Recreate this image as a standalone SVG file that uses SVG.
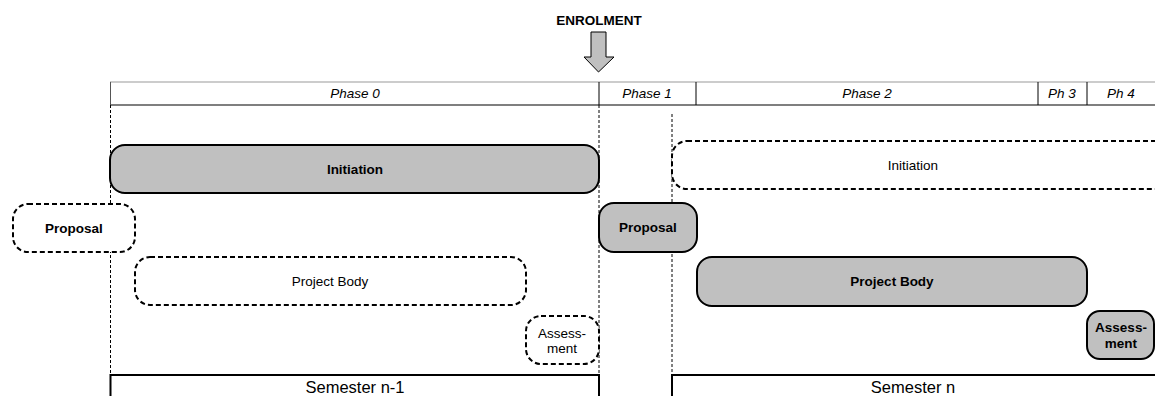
<svg xmlns="http://www.w3.org/2000/svg" width="1155" height="396" viewBox="0 0 1155 396">
<style>
text{font-family:"Liberation Sans",Arial,sans-serif;font-size:13.5px;fill:#000;text-anchor:middle}
.b{font-weight:bold}
.i{font-style:italic}
.solid{fill:#c0c0c0;stroke:#000;stroke-width:2}
.dash{fill:#fff;stroke:#000;stroke-width:2;stroke-dasharray:5 3}
.dot{stroke:#000;stroke-width:1;stroke-dasharray:3 2;fill:none}
.sem{fill:#fff;stroke:#000;stroke-width:2}
.st{font-size:16.5px}
</style>
<rect width="1155" height="396" fill="#fff"/>
<g id="enrolment">
<text class="b" x="599" y="25">ENROLMENT</text>
<polygon points="591,32 606,32 606,57 614,57 598.5,72 584,57 591,57" fill="#c0c0c0" stroke="#000" stroke-width="1"/>
</g>
<g id="phases">
<line x1="110" y1="82" x2="1155" y2="82" stroke="#999" stroke-width="1"/>
<line x1="110" y1="105" x2="1155" y2="105" stroke="#555" stroke-width="1.5"/>
<line x1="110.5" y1="82" x2="110.5" y2="105" stroke="#555" stroke-width="1"/>
<line x1="599" y1="82" x2="599" y2="105" stroke="#000" stroke-width="1"/>
<line x1="696" y1="82" x2="696" y2="105" stroke="#000" stroke-width="1"/>
<line x1="1038" y1="82" x2="1038" y2="105" stroke="#000" stroke-width="1"/>
<line x1="1087" y1="82" x2="1087" y2="105" stroke="#000" stroke-width="1"/>
<text class="i" x="355" y="98">Phase 0</text>
<text class="i" x="647" y="98">Phase 1</text>
<text class="i" x="867" y="98">Phase 2</text>
<text class="i" x="1062" y="98">Ph 3</text>
<text class="i" x="1121" y="98">Ph 4</text>
</g>
<g id="connectors">
<line class="dot" x1="110.5" y1="105" x2="110.5" y2="375"/>
<line class="dot" x1="599" y1="105" x2="599" y2="375"/>
<line class="dot" x1="672" y1="114" x2="672" y2="375"/>
</g>
<g id="initiation-1">
<rect class="solid" x="110" y="145" width="489" height="48" rx="15"/>
<text class="b" x="355" y="174">Initiation</text>
</g>
<g id="proposal-1">
<rect class="dash" x="13" y="204" width="122" height="48" rx="15"/>
<text class="b" x="74" y="233">Proposal</text>
</g>
<g id="projectbody-1">
<rect class="dash" x="135" y="257" width="391" height="48" rx="15"/>
<text x="330" y="286">Project Body</text>
</g>
<g id="assessment-1">
<rect class="dash" x="526" y="316" width="73" height="48" rx="15"/>
<text x="562" y="338">Assess-</text>
<text x="562" y="353">ment</text>
</g>
<g id="initiation-2">
<rect class="dash" x="672" y="141" width="498" height="48" rx="15"/>
<text x="913" y="170">Initiation</text>
</g>
<g id="proposal-2">
<rect class="solid" x="599" y="203" width="98" height="49" rx="15"/>
<text class="b" x="648" y="232">Proposal</text>
</g>
<g id="projectbody-2">
<rect class="solid" x="697" y="257" width="390" height="49" rx="15"/>
<text class="b" x="892" y="286">Project Body</text>
</g>
<g id="assessment-2">
<rect class="solid" x="1087" y="311" width="67" height="48" rx="13"/>
<text class="b" x="1121" y="332">Assess-</text>
<text class="b" x="1121" y="348">ment</text>
</g>
<g id="semester-n-1">
<rect class="sem" x="110.5" y="375" width="488.5" height="40"/>
<text class="st" x="355" y="393">Semester n-1</text>
</g>
<g id="semester-n">
<rect class="sem" x="672" y="375" width="500" height="40"/>
<text class="st" x="913" y="393">Semester n</text>
</g>
</svg>
